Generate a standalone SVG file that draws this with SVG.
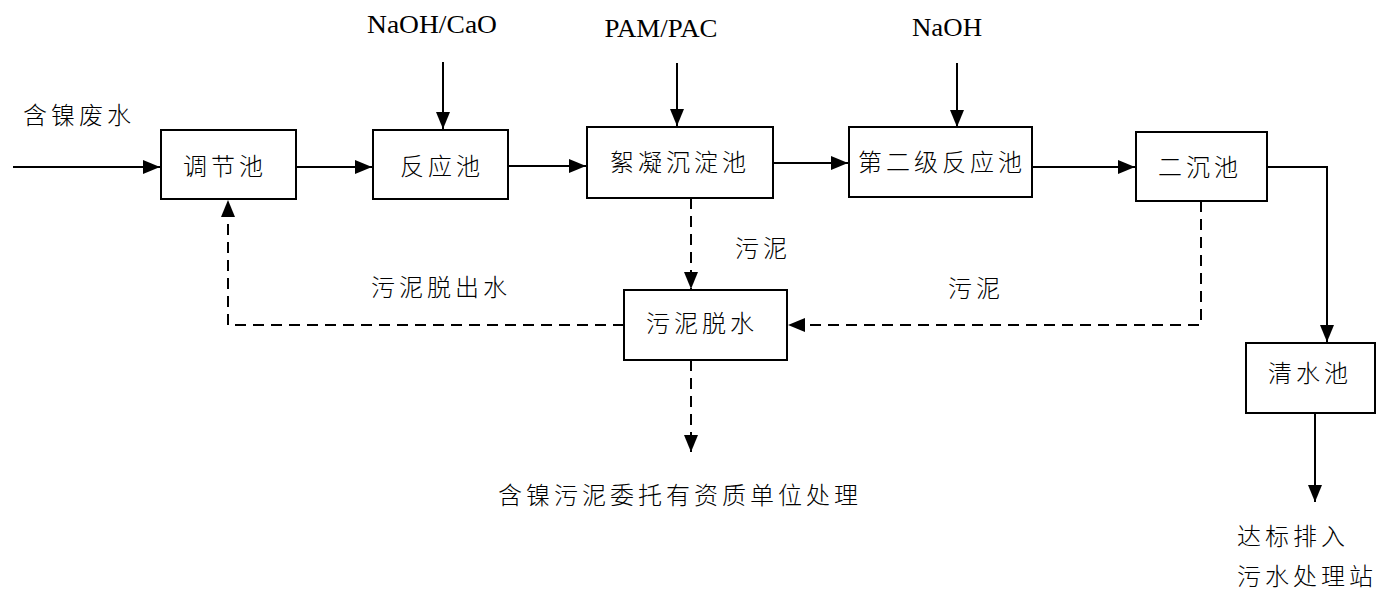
<svg xmlns="http://www.w3.org/2000/svg" width="1378" height="590" viewBox="0 0 1378 590">
<style>
.box{fill:#fff;stroke:#000;stroke-width:2}
.cn{font-family:"Noto Sans CJK SC","Noto Sans CJK JP",sans-serif;font-size:24px;font-weight:300;letter-spacing:4px;fill:#000}
.cnm{text-anchor:middle}
.en{font-family:"Liberation Serif","Times New Roman",serif;font-size:26px;fill:#000;text-anchor:middle}
.ln{fill:none;stroke:#000;stroke-width:2}
.dash{stroke-dasharray:11,7}
</style>
<defs>
<marker id="ah" markerUnits="userSpaceOnUse" markerWidth="18" markerHeight="18" viewBox="0 0 18 18" refX="17" refY="9" orient="auto">
<path d="M0,2 L17,9 L0,16 Z" fill="#000"/>
</marker>
</defs>
<g id="connectors">
<line class="ln" x1="13" y1="167" x2="160" y2="167" marker-end="url(#ah)"/>
<line class="ln" x1="296" y1="167" x2="372" y2="167" marker-end="url(#ah)"/>
<line class="ln" x1="508" y1="166" x2="586" y2="166" marker-end="url(#ah)"/>
<line class="ln" x1="773" y1="163" x2="848" y2="163" marker-end="url(#ah)"/>
<line class="ln" x1="1032" y1="167" x2="1135" y2="167" marker-end="url(#ah)"/>
<polyline class="ln" points="1267,167 1327,167 1327,342" marker-end="url(#ah)"/>
<line class="ln" x1="1315" y1="413" x2="1315" y2="502" marker-end="url(#ah)"/>
<line class="ln" x1="443" y1="62" x2="443" y2="129" marker-end="url(#ah)"/>
<line class="ln" x1="677" y1="63" x2="677" y2="126" marker-end="url(#ah)"/>
<line class="ln" x1="957" y1="63" x2="957" y2="127" marker-end="url(#ah)"/>
<line class="ln dash" x1="691" y1="198" x2="691" y2="289" marker-end="url(#ah)"/>
<polyline class="ln dash" points="1201,201 1201,325 788,325" marker-end="url(#ah)"/>
<polyline class="ln dash" points="624,325 228,325 228,200" marker-end="url(#ah)"/>
<line class="ln dash" x1="691" y1="360" x2="691" y2="452" marker-end="url(#ah)"/>
</g>
<g id="n-tiaojie"><rect class="box" x="161" y="130" width="135" height="69"/><text class="cn cnm" x="225" y="175">调节池</text></g>
<g id="n-fanying"><rect class="box" x="373" y="130" width="135" height="69"/><text class="cn cnm" x="442" y="175">反应池</text></g>
<g id="n-xuning"><rect class="box" x="587" y="127" width="186" height="71"/><text class="cn cnm" x="680" y="171">絮凝沉淀池</text></g>
<g id="n-dierji"><rect class="box" x="849" y="127" width="183" height="70"/><text class="cn cnm" x="942" y="171">第二级反应池</text></g>
<g id="n-erchen"><rect class="box" x="1136" y="132" width="131" height="69"/><text class="cn cnm" x="1200" y="176">二沉池</text></g>
<g id="n-qingshui"><rect class="box" x="1246" y="343" width="129" height="70"/><text class="cn cnm" x="1310" y="382">清水池</text></g>
<g id="n-tuoshui"><rect class="box" x="624" y="290" width="163" height="70"/><text class="cn cnm" x="702" y="332">污泥脱水</text></g>
<g id="labels">
<text class="cn" x="23" y="124">含镍废水</text>
<text class="en" x="432" y="33" textLength="130" lengthAdjust="spacingAndGlyphs">NaOH/CaO</text>
<text class="en" x="661" y="37" textLength="113" lengthAdjust="spacingAndGlyphs">PAM/PAC</text>
<text class="en" x="947" y="36" textLength="70" lengthAdjust="spacingAndGlyphs">NaOH</text>
<text class="cn" x="735" y="257">污泥</text>
<text class="cn" x="948" y="297">污泥</text>
<text class="cn" x="371" y="296">污泥脱出水</text>
<text class="cn" x="498" y="504">含镍污泥委托有资质单位处理</text>
<text class="cn" x="1237" y="545">达标排入</text>
<text class="cn" x="1237" y="585">污水处理站</text>
</g>
</svg>
